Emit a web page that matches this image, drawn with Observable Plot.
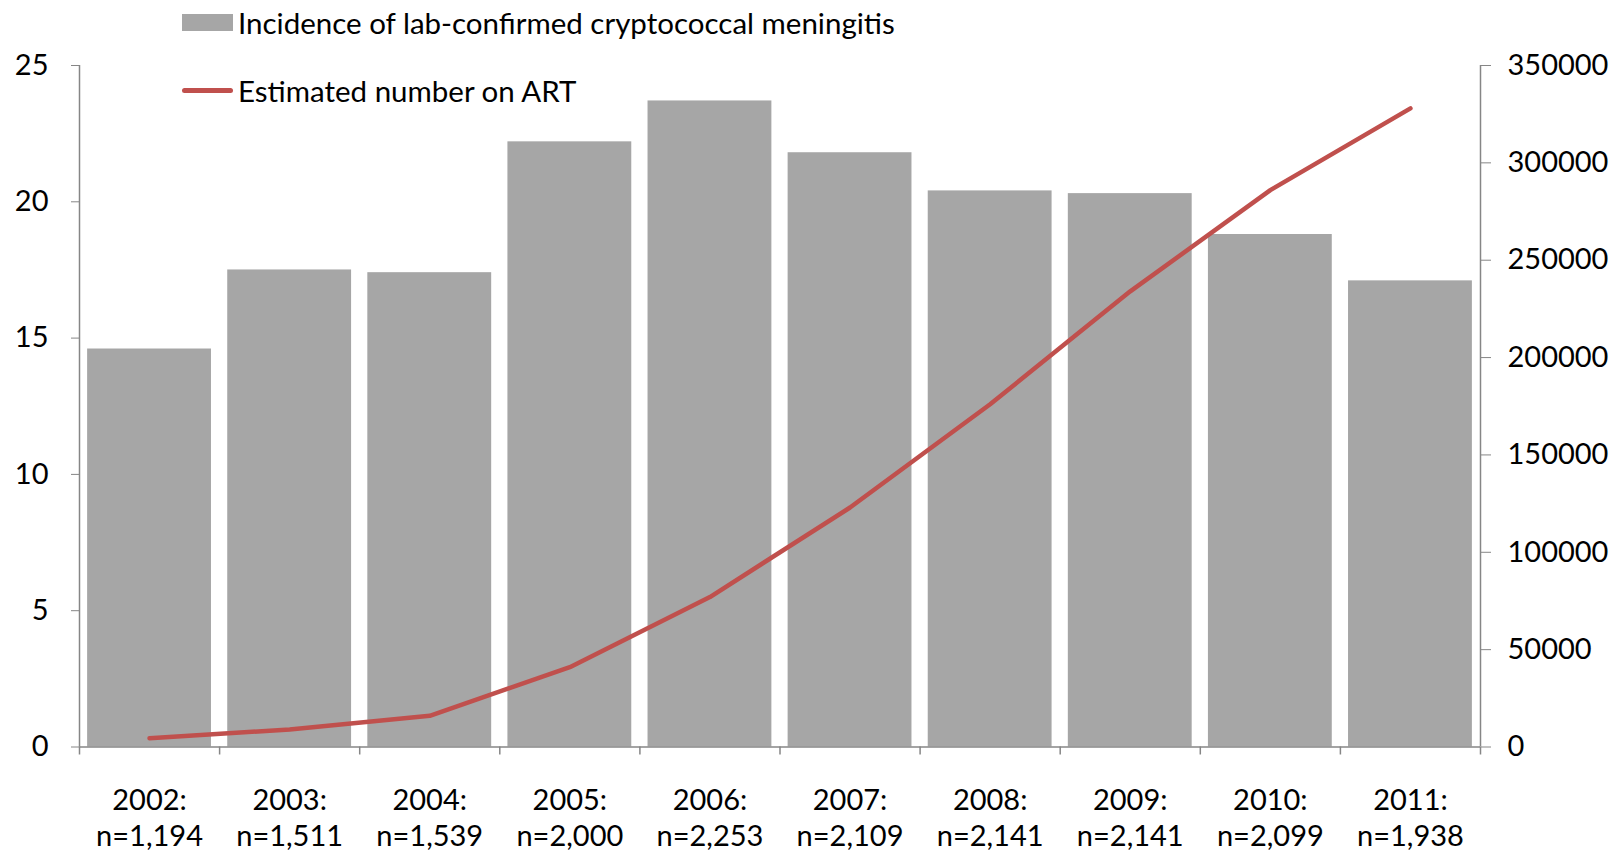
<!DOCTYPE html>
<html>
<head>
<meta charset="utf-8">
<script src="https://cdn.jsdelivr.net/npm/d3@7"></script>
<script src="https://cdn.jsdelivr.net/npm/@observablehq/plot@0.6"></script>
<style>
  html, body { margin: 0; padding: 0; background: #fff; }
  #wrap { position: relative; width: 1619px; height: 852px; font-family: Lato, "Open Sans", sans-serif; }
  .legend { position: absolute; left: 182px; display: flex; align-items: center; font-size: 29.5px; color: #000; white-space: nowrap; }
  .legend .swatch { width: 51px; margin-right: 5px; }
  .legend .bar { height: 17px; background: #a6a6a6; }
  .legend .line { height: 5px; border-radius: 3px; background: #c0504d; }
</style>
</head>
<body>
<div id="wrap">
  <div id="chart"></div>
  <div class="legend" style="top: 5px;"><div class="swatch bar"></div><span>Incidence of lab-confirmed cryptococcal meningitis</span></div>
  <div class="legend" style="top: 73px;"><div class="swatch line"></div><span>Estimated number on ART</span></div>
</div>
<script>
// Years and the sample size reported for each
const years = [2002, 2003, 2004, 2005, 2006, 2007, 2008, 2009, 2010, 2011];
const cases = [1194, 1511, 1539, 2000, 2253, 2109, 2141, 2141, 2099, 1938];

// Incidence of lab-confirmed cryptococcal meningitis (left axis)
const incidence = [14.6, 17.5, 17.4, 22.2, 23.7, 21.8, 20.4, 20.3, 18.8, 17.1];

// Estimated number of people on ART (right axis)
const onART = [4500, 9000, 16000, 41000, 77000, 123000, 176000, 234000, 286000, 328000];

// Axis tick values
const leftTicks = [0, 5, 10, 15, 20, 25];
const rightTicks = [0, 50000, 100000, 150000, 200000, 250000, 300000, 350000];

const leftMax = d3.max(leftTicks);
const rightMax = d3.max(rightTicks);
const ratio = rightMax / leftMax; // right-axis units per left-axis unit

const rows = years.map((year, i) => ({year, n: cases[i], incidence: incidence[i], art: onART[i]}));

const x0 = d3.min(years) - 0.5;
const x1 = d3.max(years) + 0.5;
const boundaries = d3.range(x0, x1 + 0.001, 1);
const halfBar = 0.442;
const axisColor = "#868686";
const fmt = d3.format(",");
const fs = 29;

const chart = Plot.plot({
  width: 1619,
  height: 852,
  marginLeft: 79,
  marginRight: 139,
  marginTop: 65,
  marginBottom: 105.5,
  style: {fontFamily: "Lato, 'Open Sans', sans-serif", fontSize: `${fs}px`, color: "#000", background: "#fff"},
  x: {type: "linear", domain: [x0, x1]},
  y: {domain: [0, leftMax]},
  marks: [
    Plot.rectY(rows, {x1: d => d.year - halfBar, x2: d => d.year + halfBar, y: "incidence", fill: "#a6a6a6"}),
    Plot.ruleY([0], {stroke: axisColor, strokeWidth: 1.5}),
    Plot.ruleX([x0, x1], {stroke: axisColor, strokeWidth: 1.5}),
    Plot.lineY(rows, {x: "year", y: d => d.art / ratio, stroke: "#c0504d", strokeWidth: 4.5, strokeLinecap: "round", strokeLinejoin: "round"}),
    Plot.axisY({anchor: "left", ticks: leftTicks, tickSize: 8, tickPadding: 23, fontSize: fs, stroke: axisColor, label: null}),
    Plot.axisY({anchor: "right", ticks: rightTicks.map(t => t / ratio), tickFormat: d => String(Math.round(d * ratio)), tickSize: 10, tickPadding: 17, fontSize: fs, stroke: axisColor, label: null}),
    Plot.axisX({ticks: boundaries, tickSize: 8, tickFormat: () => "", stroke: axisColor, strokeWidth: 1.5, label: null}),
    Plot.text(rows, {x: "year", y: 0, text: d => `${d.year}:\nn=${fmt(d.n)}`, dy: 69.5, lineAnchor: "middle", lineHeight: 1.25, fontSize: fs, fill: "#000"})
  ]
});
document.getElementById("chart").appendChild(chart);
</script>
</body>
</html>
